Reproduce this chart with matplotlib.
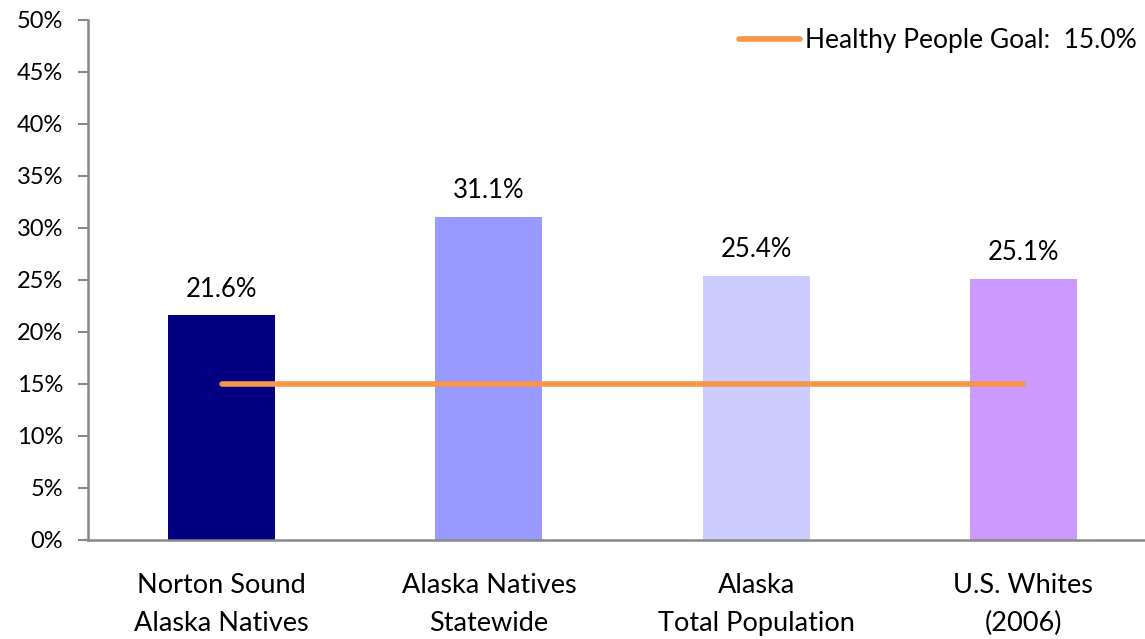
import matplotlib
matplotlib.use("Agg")
import matplotlib.pyplot as plt
from matplotlib.ticker import FuncFormatter

plt.rcParams['font.family'] = ['Lato', 'DejaVu Sans']

categories = ["Norton Sound\nAlaska Natives", "Alaska Natives\nStatewide", "Alaska\nTotal Population", "U.S. Whites\n(2006)"]
values = [21.6, 31.1, 25.4, 25.1]
colors = ["#000080", "#9999FF", "#CCCCFF", "#CC99FF"]
goal = 15.0
goal_label = "Healthy People Goal:  15.0%"
yticks = [0, 5, 10, 15, 20, 25, 30, 35, 40, 45, 50]

fig = plt.figure(figsize=(11.45, 6.39), dpi=100)
W, H = 1145, 639
left, right, top, bottom = 88, 1157, 20, 540
ax = fig.add_axes([left / W, 1 - bottom / H, (right - left) / W, (bottom - top) / H])

x = list(range(len(categories)))
ax.bar(x, values, width=0.4, color=colors, zorder=2)
for xi, v in zip(x, values):
    ax.text(xi, v + 1.3, f"{v:.1f}%", ha="center", va="bottom", fontsize=18.5)

ax.plot([x[0], x[-1]], [goal, goal], color="#F79646", lw=4, solid_capstyle="round", zorder=3, label=goal_label)

ax.set_xlim(-0.5, len(categories) - 0.5)
ax.set_ylim(0, 50)
ax.set_yticks(yticks)
ax.yaxis.set_major_formatter(FuncFormatter(lambda v, p: f"{v:.0f}%"))
ax.set_xticks(x)
ax.set_xticklabels(categories, fontsize=19.5, linespacing=1.65)
ax.tick_params(axis="x", length=0, pad=24)
ax.tick_params(axis="y", length=7, width=1.5, color="#888888", labelsize=17, pad=11)
for s in ["top", "right"]:
    ax.spines[s].set_visible(False)
for s in ["left", "bottom"]:
    ax.spines[s].set_color("#888888")
    ax.spines[s].set_linewidth(1.8)

leg = ax.legend(loc="upper right", bbox_to_anchor=((1137 - left) / (right - left), (bottom - 28) / (bottom - top)),
                frameon=False, fontsize=19, handlelength=2.3, handletextpad=0.2, borderaxespad=0,
                borderpad=0)

fig.savefig("out.png", dpi=100)
